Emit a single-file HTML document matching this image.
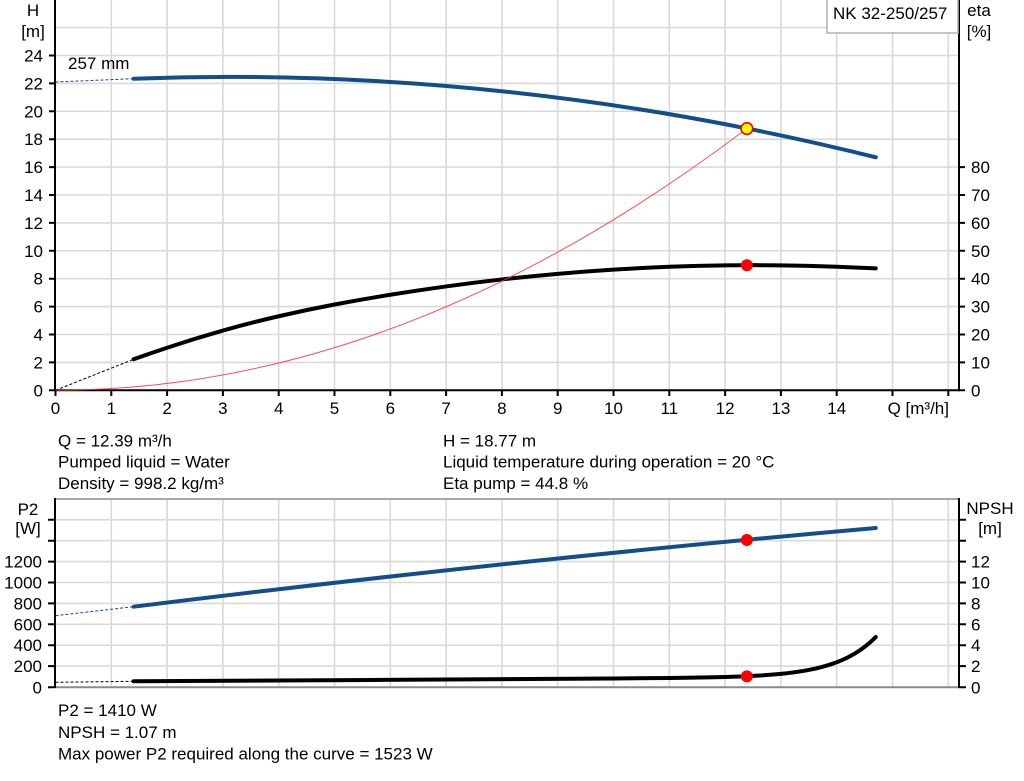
<!DOCTYPE html>
<html><head><meta charset="utf-8"><style>
html,body{margin:0;padding:0;background:#fff;}
svg{display:block;}
text{font-family:"Liberation Sans",Arial,sans-serif;font-size:17px;fill:#000;}
</style></head><body>
<svg width="1024" height="781" viewBox="0 0 1024 781" xmlns="http://www.w3.org/2000/svg">
<rect width="1024" height="781" fill="#fff"/>
<!-- TOP CHART GRID -->
<g stroke="#d9d9d9" stroke-width="1.6">
<path d="M111.3 0V390M167.1 0V390M222.9 0V390M278.7 0V390M334.5 0V390M390.3 0V390M446.1 0V390M501.9 0V390M557.7 0V390M613.5 0V390M669.3 0V390M725.1 0V390M780.9 0V390M836.7 0V390M892.5 0V390M948.3 0V390"/>
<path d="M55 362.4H959M55 334.5H959M55 306.6H959M55 278.7H959M55 250.8H959M55 222.9H959M55 195H959M55 167.1H959M55 139.2H959M55 111.3H959M55 83.4H959M55 55.5H959M55 27.6H959"/>
</g>
<!-- BOTTOM CHART GRID -->
<g stroke="#d9d9d9" stroke-width="1.6">
<path d="M111.3 499V687M167.1 499V687M222.9 499V687M278.7 499V687M334.5 499V687M390.3 499V687M446.1 499V687M501.9 499V687M557.7 499V687M613.5 499V687M669.3 499V687M725.1 499V687M780.9 499V687M836.7 499V687M892.5 499V687M948.3 499V687"/>
<path d="M55 666.1H959M55 645.2H959M55 624.3H959M55 603.4H959M55 582.5H959M55 561.6H959M55 540.7H959M55 519.8H959"/>
</g>
<!-- TOP AXES -->
<g stroke="#000" stroke-width="2" fill="none">
<path d="M55 0V391M54 390.3H960M959 0V391"/>
<path d="M49 390.3H55M49 362.4H55M49 334.5H55M49 306.6H55M49 278.7H55M49 250.8H55M49 222.9H55M49 195H55M49 167.1H55M49 139.2H55M49 111.3H55M49 83.4H55M49 55.5H55"/>
<path d="M959 390.3H965M959 362.4H965M959 334.5H965M959 306.6H965M959 278.7H965M959 250.8H965M959 222.9H965M959 195H965M959 167.1H965"/>
<path d="M55.5 390V396M111.3 390V396M167.1 390V396M222.9 390V396M278.7 390V396M334.5 390V396M390.3 390V396M446.1 390V396M501.9 390V396M557.7 390V396M613.5 390V396M669.3 390V396M725.1 390V396M780.9 390V396M836.7 390V396M892.5 390V396M948.3 390V396"/>
</g>
<!-- BOTTOM AXES -->
<path d="M55 687.3H959" stroke="#8a8a8a" stroke-width="2"/>
<path d="M55 499H959" stroke="#a8a8a8" stroke-width="2"/>
<g stroke="#000" stroke-width="2" fill="none">
<path d="M55 498V688M959 498V688"/>
<path d="M48 687.3H55M48 666.1H55M48 645.2H55M48 624.3H55M48 603.4H55M48 582.5H55M48 561.6H55M48 540.7H55M48 519.8H55"/>
<path d="M959 687.3H966M959 666.1H966M959 645.2H966M959 624.3H966M959 603.4H966M959 582.5H966M959 561.6H966M959 540.7H966M959 519.8H966"/>
</g>
<!-- TOP LABELS -->
<text x="33" y="16" text-anchor="middle">H</text>
<text x="33" y="37" text-anchor="middle">[m]</text>
<text x="979" y="16" text-anchor="middle">eta</text>
<text x="979" y="37" text-anchor="middle">[%]</text>
<g text-anchor="end">
<text x="43" y="396.3">0</text><text x="43" y="368.4">2</text><text x="43" y="340.5">4</text><text x="43" y="312.6">6</text><text x="43" y="284.7">8</text><text x="43" y="256.8">10</text><text x="43" y="228.9">12</text><text x="43" y="201">14</text><text x="43" y="173.1">16</text><text x="43" y="145.2">18</text><text x="43" y="117.3">20</text><text x="43" y="89.4">22</text><text x="43" y="61.5">24</text>
</g>
<g>
<text x="971" y="396.3">0</text><text x="971" y="368.4">10</text><text x="971" y="340.5">20</text><text x="971" y="312.6">30</text><text x="971" y="284.7">40</text><text x="971" y="256.8">50</text><text x="971" y="228.9">60</text><text x="971" y="201">70</text><text x="971" y="173.1">80</text>
</g>
<g text-anchor="middle">
<text x="55.5" y="414">0</text><text x="111.3" y="414">1</text><text x="167.1" y="414">2</text><text x="222.9" y="414">3</text><text x="278.7" y="414">4</text><text x="334.5" y="414">5</text><text x="390.3" y="414">6</text><text x="446.1" y="414">7</text><text x="501.9" y="414">8</text><text x="557.7" y="414">9</text><text x="613.5" y="414">10</text><text x="669.3" y="414">11</text><text x="725.1" y="414">12</text><text x="780.9" y="414">13</text><text x="836.7" y="414">14</text>
</g>
<text x="949" y="414" text-anchor="end">Q [m³/h]</text>
<!-- NK box -->
<rect x="827" y="-1" width="131" height="34" fill="#fff" stroke="#b0b0b0" stroke-width="1.5"/>
<text x="833" y="19">NK 32-250/257</text>
<text x="68" y="69">257 mm</text>
<!-- CURVES TOP -->
<path d="M55.5 82L133.6 78.7" stroke="#114e8a" stroke-width="1" stroke-dasharray="3,2" fill="none"/>
<path d="M133.6 78.7Q504.7 65 875.8 157.3" stroke="#114e8a" stroke-width="4" fill="none" stroke-linecap="round"/>
<path d="M55.5 390.3L133.6 359.3" stroke="#000" stroke-width="1" stroke-dasharray="3,2" fill="none"/>
<path d="M133.62 359.3C144.78 355.3 155.94 351.45 167.1 347.75C185.7 341.58 204.3 335.87 222.9 330.6C241.5 325.33 260.1 320.55 278.7 316.25C297.3 311.95 315.9 308.03 334.5 304.5C353.1 300.97 371.7 297.72 390.3 294.75C408.9 291.78 427.5 289.02 446.1 286.45C464.7 283.88 483.3 281.55 501.9 279.45C520.5 277.35 539.1 275.48 557.7 273.85C576.3 272.22 594.9 270.82 613.5 269.65C632.1 268.48 650.7 267.53 669.3 266.8C687.9 266.07 706.5 265.58 725.1 265.35C743.7 265.12 762.3 265.12 780.9 265.35C799.5 265.58 818.1 266.03 836.7 266.7C849.72 267.17 862.74 267.75 875.76 268.4" stroke="#000" stroke-width="4" fill="none" stroke-linecap="round"/>
<path d="M55.5 390.3Q401.2 390.3 746.9 128.5" stroke="#ff3030" stroke-width="1" fill="none" opacity="0.85"/>
<circle cx="746.9" cy="128.6" r="5.8" fill="#ffff00" stroke="#ff0000" stroke-width="1.6"/>
<circle cx="746.9" cy="265.3" r="6" fill="#ff0000"/>
<!-- TEXT BLOCK 1 -->
<text x="58" y="446.5">Q = 12.39 m³/h</text>
<text x="58" y="467.7">Pumped liquid = Water</text>
<text x="58" y="489">Density = 998.2 kg/m³</text>
<text x="443" y="446.5">H = 18.77 m</text>
<text x="443" y="467.7">Liquid temperature during operation = 20 °C</text>
<text x="443" y="489">Eta pump = 44.8 %</text>
<!-- BOTTOM LABELS -->
<text x="28" y="515" text-anchor="middle">P2</text>
<text x="28" y="534" text-anchor="middle">[W]</text>
<text x="990" y="514" text-anchor="middle">NPSH</text>
<text x="990" y="534" text-anchor="middle">[m]</text>
<g text-anchor="end">
<text x="42" y="693.3">0</text><text x="42" y="672.1">200</text><text x="42" y="651.2">400</text><text x="42" y="630.3">600</text><text x="42" y="609.4">800</text><text x="42" y="588.5">1000</text><text x="42" y="567.6">1200</text>
</g>
<g>
<text x="971" y="693.3">0</text><text x="971" y="672.1">2</text><text x="971" y="651.2">4</text><text x="971" y="630.3">6</text><text x="971" y="609.4">8</text><text x="971" y="588.5">10</text><text x="971" y="567.6">12</text>
</g>
<!-- CURVES BOTTOM -->
<path d="M55.5 615.7L133.6 606.7" stroke="#114e8a" stroke-width="1" stroke-dasharray="3,2" fill="none"/>
<path d="M133.6 606.7Q504.7 560.8 875.8 528" stroke="#114e8a" stroke-width="4" fill="none" stroke-linecap="round"/>
<path d="M55.5 682.3L133.6 681.3" stroke="#000" stroke-width="1" stroke-dasharray="3,2" fill="none"/>
<path d="M133.62 681.3C293.7 680.38 453.42 679.64 613.5 678.49C632.1 678.36 650.7 678.21 669.3 678C687.9 677.79 706.5 677.53 725.1 677C734.4 676.73 743.7 676.39 753 675.91C762.3 675.43 771.6 674.81 780.9 673.89C790.2 672.97 799.5 671.76 808.8 669.97C818.1 668.18 827.4 665.82 836.7 662.26C843.21 659.77 849.72 656.7 856.23 652.66C862.74 648.62 869.25 643.62 875.76 637.05" stroke="#000" stroke-width="4" fill="none" stroke-linecap="round"/>
<circle cx="746.9" cy="540" r="6" fill="#ff0000"/>
<circle cx="746.9" cy="676.4" r="6" fill="#ff0000"/>
<!-- TEXT BLOCK 2 -->
<text x="58" y="716">P2 = 1410 W</text>
<text x="58" y="738">NPSH = 1.07 m</text>
<text x="58" y="759.5">Max power P2 required along the curve = 1523 W</text>
</svg>
</body></html>
